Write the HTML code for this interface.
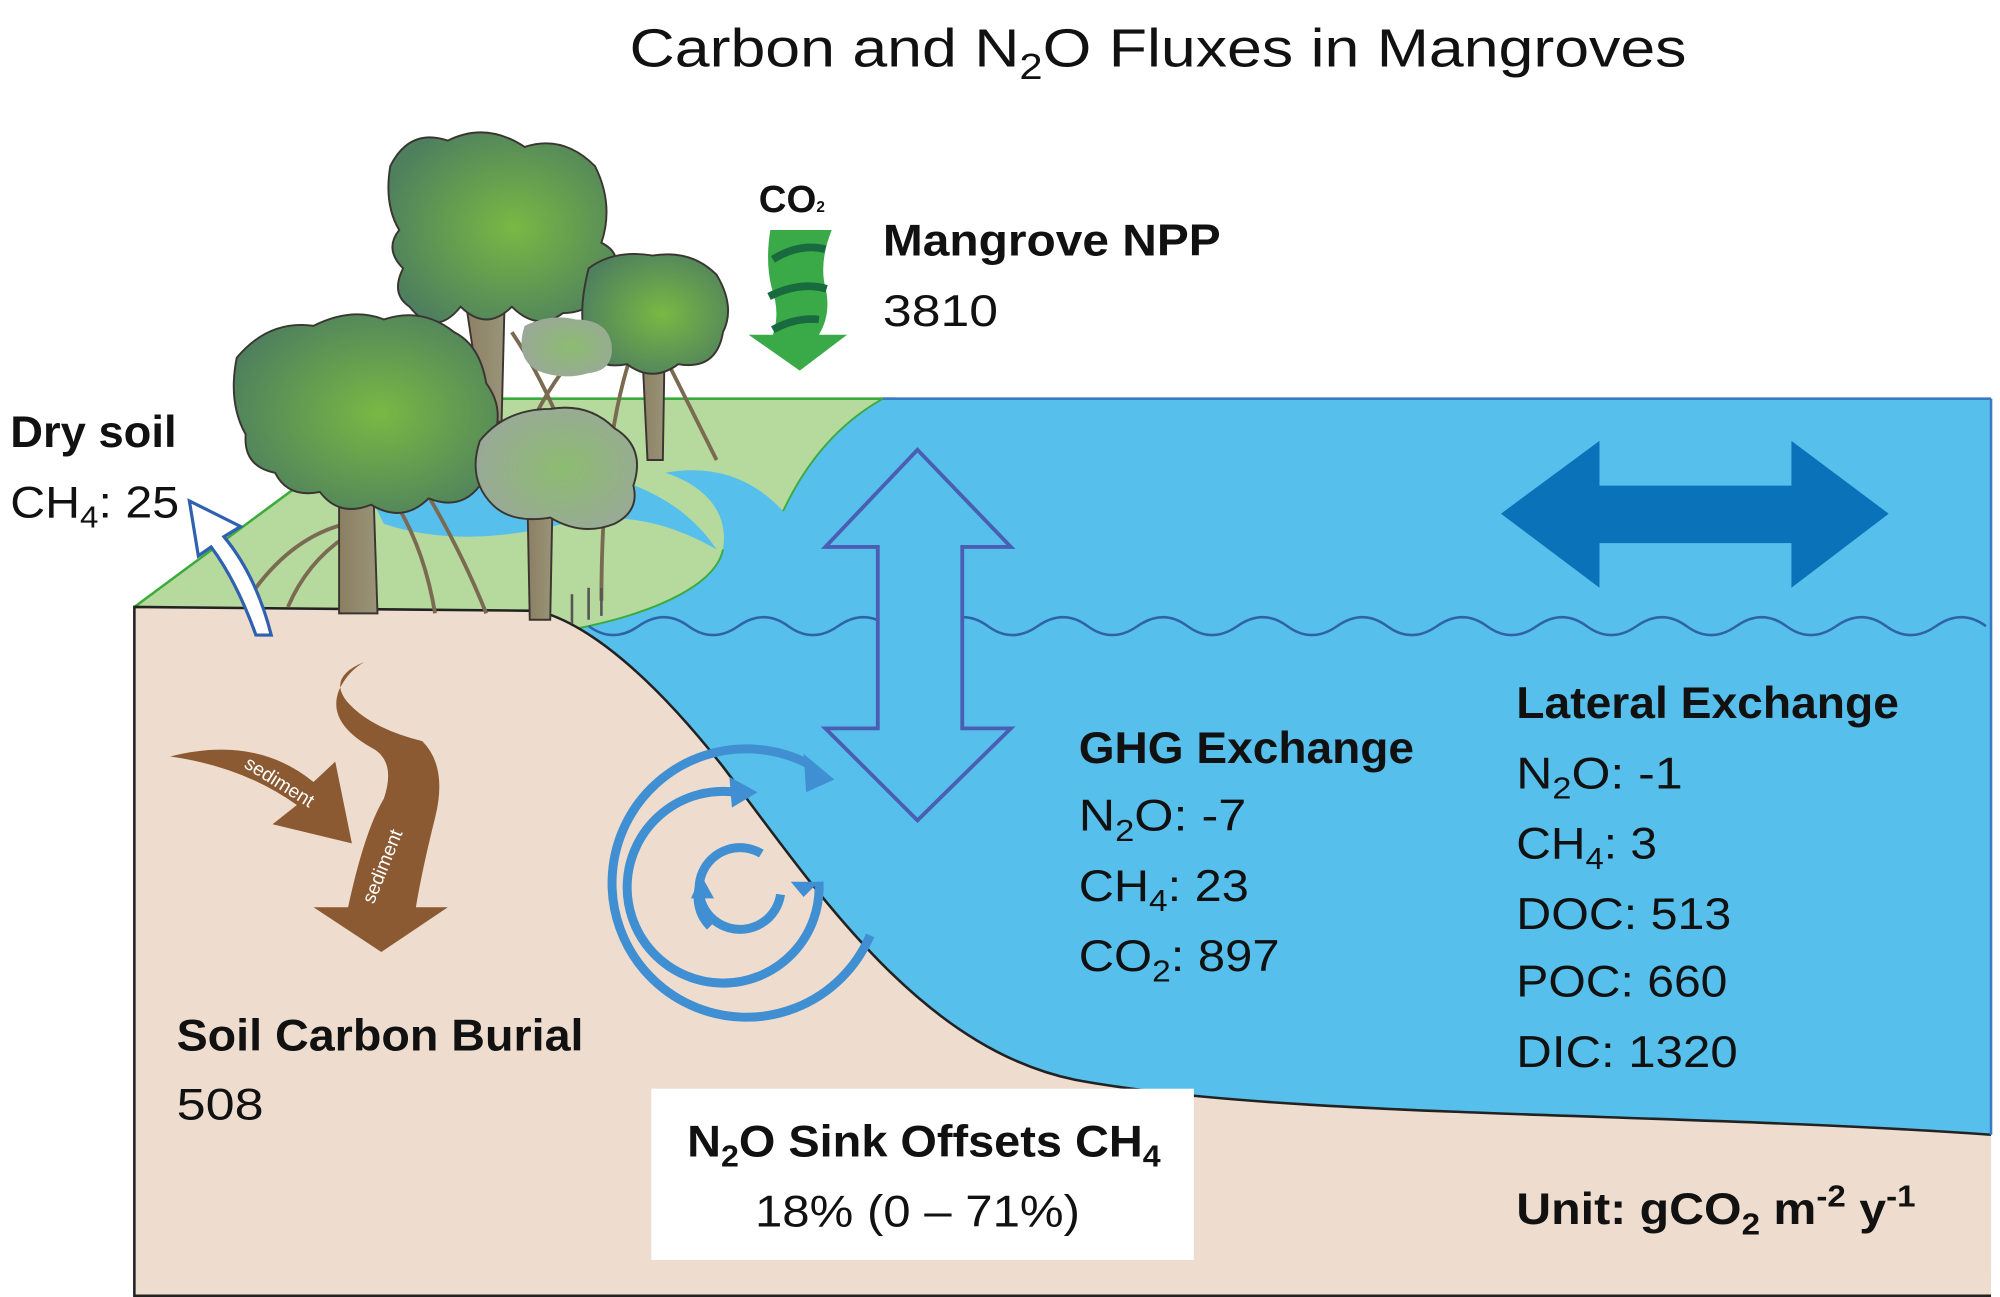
<!DOCTYPE html>
<html><head><meta charset="utf-8"><style>
html,body{margin:0;padding:0;background:#fff;}
svg{display:block;}
text{font-family:"Liberation Sans",sans-serif;fill:#111;}
</style></head><body>
<svg width="2000" height="1297" viewBox="0 0 1563 1015" preserveAspectRatio="none" xmlns="http://www.w3.org/2000/svg">
<defs>
<radialGradient id="lf" cx="0.55" cy="0.5" r="0.6"><stop offset="0" stop-color="#7ab844"/><stop offset="1" stop-color="#4e7f5e"/></radialGradient>
<radialGradient id="lg" cx="0.55" cy="0.5" r="0.6"><stop offset="0" stop-color="#8cbc70"/><stop offset="1" stop-color="#9aa89a"/></radialGradient>
<linearGradient id="tr" x1="0" x2="1"><stop offset="0" stop-color="#8b7e63"/><stop offset="1" stop-color="#9a9478"/></linearGradient>
</defs>
<text x="905" y="52" font-size="42" text-anchor="middle" textLength="826" lengthAdjust="spacingAndGlyphs">Carbon and N<tspan font-size="28" dy="10">2</tspan><tspan dy="-10">O Fluxes in Mangroves</tspan></text>

<!-- green bank -->
<path d="M105,475 L325,312 L700,312 L700,500 L450,492 Z" fill="#b6d99d"/>
<path d="M105,475 L325,312 L700,312" fill="none" stroke="#3bab3b" stroke-width="2"/>
<!-- pond -->
<path d="M290,390 Q330,360 420,365 Q520,370 560,430 Q500,395 440,410 Q360,430 300,410 Z" fill="#56bfeb"/>
<!-- water (extends below soil) -->
<path d="M690,312 L1556,312 L1556,1000 L420,1000 L420,490 L450,492 C520,478 560,455 565,430 C570,400 550,380 520,370 Q575,360 612,400 Q640,340 690,312 Z" fill="#56bfeb"/>
<path d="M450,492 C520,478 560,455 565,430" fill="none" stroke="#3bab3b" stroke-width="1.5"/>
<path d="M612,400 Q640,340 690,312" fill="none" stroke="#3bab3b" stroke-width="1.5"/>
<line x1="690" y1="312" x2="1556" y2="312" stroke="#3a7ac0" stroke-width="2"/>
<!-- soil -->
<path d="M105,475 L420,478 C460,488 510,530 565,600 C640,700 720,820 840,845 C1000,875 1300,870 1556,888 L1556,1015 L105,1015 Z" fill="#eeddcf"/>
<path d="M105,1015 L105,475 L420,478 C460,488 510,530 565,600 C640,700 720,820 840,845 C1000,875 1300,870 1556,888" fill="none" stroke="#222" stroke-width="2"/>
<line x1="105" y1="1014" x2="1556" y2="1014" stroke="#222" stroke-width="2"/>
<line x1="1556" y1="312" x2="1556" y2="888" stroke="#3a7ac0" stroke-width="2"/>
<!-- waves -->
<path d="M460,490 q19,14 39,0 t39,0 t39,0 t39,0 t39,0 t39,0 t39,0 t39,0 t39,0 t39,0 t39,0 t39,0 t39,0 t39,0 t39,0 t39,0 t39,0 t39,0 t39,0 t39,0 t39,0 t39,0 t39,0 t39,0 t39,0 t39,0 t39,0 t39,0" fill="none" stroke="#2f63a8" stroke-width="2"/>

<!-- trees -->
<g stroke="#3a3530" stroke-width="1.5">
<g fill="none" stroke="#7a6a52" stroke-width="3">
<path d="M270,410 Q230,420 200,460"/><path d="M270,420 Q240,440 225,475"/><path d="M300,380 Q330,420 340,480"/><path d="M330,380 Q360,430 380,480"/><path d="M380,250 Q350,300 345,380"/><path d="M400,260 Q440,320 460,400"/><path d="M500,260 Q470,330 470,470"/><path d="M510,260 Q540,320 560,360"/><path d="M440,290 Q410,330 400,380"/>
</g>
<path d="M265,330 L290,330 L295,480 L265,480 Z" fill="url(#tr)"/>
<path d="M360,210 L395,210 L392,330 L378,330 Z" fill="url(#tr)"/>
<path d="M500,235 L520,235 L518,360 L506,360 Z" fill="url(#tr)"/>
<path d="M412,380 L432,380 L430,485 L414,485 Z" fill="url(#tr)"/>
<path d="M305,130 Q320,100 350,110 Q380,95 410,115 Q440,105 465,130 Q480,160 470,190 Q490,200 475,220 Q465,245 440,245 Q420,260 400,240 Q380,260 360,240 Q340,265 320,240 Q305,230 315,210 Q300,195 312,180 Q300,160 305,130 Z" fill="url(#lf)"/>
<path d="M460,210 Q480,195 510,200 Q540,195 560,215 Q575,240 565,260 Q560,290 530,285 Q510,300 490,285 Q465,290 460,270 Q450,250 460,210 Z" fill="url(#lf)"/>
<path d="M410,255 Q430,245 450,250 Q475,250 478,270 Q480,290 460,292 Q440,298 420,290 Q402,280 410,255 Z" fill="url(#lg)" stroke="none"/>
<path d="M185,280 Q210,250 245,255 Q275,240 300,250 Q330,240 355,260 Q375,270 380,300 Q395,320 385,345 Q395,370 375,380 Q360,400 335,390 Q315,410 290,395 Q265,405 250,385 Q225,390 215,370 Q190,365 192,340 Q178,315 185,280 Z" fill="url(#lf)"/>
<path d="M375,345 Q395,320 430,320 Q460,315 480,335 Q505,350 495,380 Q500,400 480,410 Q455,420 430,405 Q400,410 385,395 Q365,375 375,345 Z" fill="url(#lg)"/>
</g>
<g stroke="#555" stroke-width="2"><line x1="460" y1="460" x2="460" y2="485"/><line x1="470" y1="460" x2="470" y2="482"/><line x1="447" y1="465" x2="447" y2="488"/></g>

<!-- dry soil arrow -->
<path d="M212,497 Q200,450 175,420 L188,412 L148,392 L155,435 L165,428 Q185,455 200,497 Z" fill="#fff" stroke="#3060b0" stroke-width="2.5"/>

<!-- CO2 green arrow -->
<path d="M602,180 L650,180 Q640,205 645,225 Q650,245 640,262 L662,262 L625,290 L585,262 L604,262 Q610,245 603,225 Q598,205 602,180 Z" fill="#3aaa48"/>
<path d="M604,203 Q625,190 645,195 M601,232 Q625,220 646,226 M604,258 Q622,248 640,250" stroke="#1a6a40" stroke-width="6" fill="none"/>
<text x="593" y="166" font-size="30" font-weight="bold">CO<tspan font-size="12">2</tspan></text>

<!-- vertical double arrow -->
<path d="M717,352 L790,428 L752,428 L752,570 L790,570 L717,642 L645,570 L686,570 L686,428 L645,428 Z" fill="#56bfeb" stroke="#4b5fb2" stroke-width="3"/>
<!-- horizontal arrow -->
<path d="M1173,402 L1250,345 L1250,380 L1400,380 L1400,345 L1476,402 L1400,460 L1400,425 L1250,425 L1250,460 Z" fill="#0a72b8"/>

<!-- swirl -->
<g fill="none" stroke="#3f8fd2" stroke-width="7">
<path d="M680,732 A105,105 0 1 1 632,598"/>
<path d="M640,690 A75,75 0 1 1 575,620"/>
<path d="M610,700 A32,32 0 1 1 595,668"/>
<path d="M555,725 A32,32 0 0 1 548,690"/>
</g>
<g fill="#3f8fd2"><path d="M652,610 L628,590 L630,620 Z"/><path d="M592,620 L570,608 L572,632 Z"/><path d="M628,702 L618,690 L640,690 Z"/><path d="M548,685 L540,703 L558,703 Z"/></g>

<!-- sediment arrows -->
<path d="M133,592 Q200,575 245,612 L262,596 L275,660 L213,645 L232,630 Q190,600 133,592 Z" fill="#8b5a32"/>
<path d="M285,518 Q255,530 272,550 Q290,570 330,580 Q350,600 340,640 Q330,680 325,710 L350,710 L298,745 L245,710 L272,710 Q285,650 300,625 Q310,595 290,585 Q255,565 265,540 Q272,525 285,518 Z" fill="#8b5a32"/>
<text x="190" y="600" font-size="15" style="fill:#fff" transform="rotate(32 190 600)">sediment</text>
<text x="292" y="708" font-size="15" style="fill:#fff" transform="rotate(-68 292 708)">sediment</text>

<!-- labels -->
<text x="8" y="350" font-size="35" font-weight="bold" textLength="130" lengthAdjust="spacingAndGlyphs">Dry soil</text>
<text x="8" y="405" font-size="35" textLength="132" lengthAdjust="spacingAndGlyphs">CH<tspan font-size="24" dy="8">4</tspan><tspan dy="-8">: 25</tspan></text>
<text x="690" y="200" font-size="35" font-weight="bold" textLength="264" lengthAdjust="spacingAndGlyphs">Mangrove NPP</text>
<text x="690" y="255" font-size="35" textLength="90" lengthAdjust="spacingAndGlyphs">3810</text>
<text x="843" y="597" font-size="35" font-weight="bold" textLength="262" lengthAdjust="spacingAndGlyphs">GHG Exchange</text>
<text x="843" y="650" font-size="35" textLength="131" lengthAdjust="spacingAndGlyphs">N<tspan font-size="24" dy="8">2</tspan><tspan dy="-8">O: -7</tspan></text>
<text x="843" y="705" font-size="35" textLength="133" lengthAdjust="spacingAndGlyphs">CH<tspan font-size="24" dy="8">4</tspan><tspan dy="-8">: 23</tspan></text>
<text x="843" y="760" font-size="35" textLength="157" lengthAdjust="spacingAndGlyphs">CO<tspan font-size="24" dy="8">2</tspan><tspan dy="-8">: 897</tspan></text>
<text x="1185" y="562" font-size="35" font-weight="bold" textLength="299" lengthAdjust="spacingAndGlyphs">Lateral Exchange</text>
<text x="1185" y="617" font-size="35" textLength="130" lengthAdjust="spacingAndGlyphs">N<tspan font-size="24" dy="8">2</tspan><tspan dy="-8">O: -1</tspan></text>
<text x="1185" y="672" font-size="35" textLength="110" lengthAdjust="spacingAndGlyphs">CH<tspan font-size="24" dy="8">4</tspan><tspan dy="-8">: 3</tspan></text>
<text x="1185" y="727" font-size="35" textLength="168" lengthAdjust="spacingAndGlyphs">DOC: 513</text>
<text x="1185" y="780" font-size="35" textLength="165" lengthAdjust="spacingAndGlyphs">POC: 660</text>
<text x="1185" y="835" font-size="35" textLength="173" lengthAdjust="spacingAndGlyphs">DIC: 1320</text>
<text x="138" y="822" font-size="35" font-weight="bold" textLength="318" lengthAdjust="spacingAndGlyphs">Soil Carbon Burial</text>
<text x="138" y="876" font-size="35" textLength="68" lengthAdjust="spacingAndGlyphs">508</text>
<rect x="509" y="852" width="424" height="134" fill="#fff"/>
<text x="537" y="905" font-size="35" font-weight="bold" textLength="370" lengthAdjust="spacingAndGlyphs">N<tspan font-size="24" dy="8">2</tspan><tspan dy="-8">O Sink Offsets CH</tspan><tspan font-size="24" dy="8">4</tspan></text>
<text x="590" y="960" font-size="35" textLength="254" lengthAdjust="spacingAndGlyphs">18% (0 – 71%)</text>
<text x="1185" y="958" font-size="35" font-weight="bold" textLength="312" lengthAdjust="spacingAndGlyphs">Unit: gCO<tspan font-size="24" dy="8">2</tspan><tspan dy="-8"> m</tspan><tspan font-size="24" dy="-14">-2</tspan><tspan dy="14"> y</tspan><tspan font-size="24" dy="-14">-1</tspan></text>
</svg>
</body></html>
